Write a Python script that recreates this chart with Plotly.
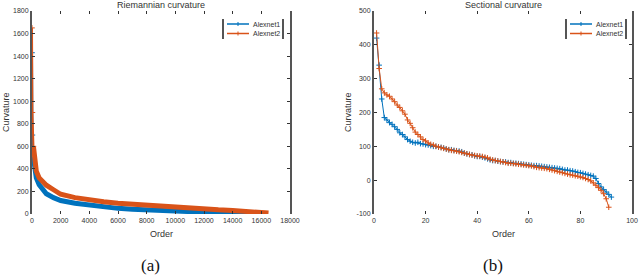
import plotly.graph_objects as go

# ---------------- data ----------------
# (a) Riemannian curvature — sampled readings of the sorted curves
riem_order_1 = [0, 30, 100, 200, 300, 500, 800, 1000, 1500, 2000, 3000, 4000, 5000, 6000,
                7000, 8000, 9000, 10000, 11000, 12000, 13000, 14000, 15000, 15300]
riem_alex1 = [1430, 700, 500, 400, 320, 260, 200, 180, 145, 120, 95, 78, 62, 50,
              42, 35, 29, 24, 19, 15, 11, 8, 5, 3]
riem_order_2 = [0, 30, 100, 200, 300, 500, 800, 1000, 1500, 2000, 3000, 4000, 5000, 6000,
                7000, 8000, 9000, 10000, 11000, 12000, 13000, 14000, 15000, 16000, 16500]
riem_alex2 = [1650, 900, 600, 450, 380, 320, 280, 255, 215, 175, 145, 124, 108, 96,
              86, 78, 68, 58, 50, 43, 37, 32, 22, 12, 8]

# (b) Sectional curvature
sec_alex1 = [420, 340, 240, 185, 178, 170, 165, 158, 150, 140, 135, 128, 120, 115, 112, 110,
             112, 108, 107, 105, 104, 102, 100, 100, 98, 97, 95, 92, 90, 90, 88, 87, 86, 84,
             80, 78, 76, 75, 72, 70, 70, 68, 66, 63, 60, 58, 58, 56, 55, 54, 54, 52, 52, 50,
             50, 49, 48, 47, 46, 45, 44, 43, 43, 42, 41, 40, 39, 38, 37, 36, 35, 34, 32, 30,
             30, 28, 27, 25, 23, 22, 20, 18, 16, 14, 12, 5, -10, -20, -28, -35, -42, -50]
sec_alex2 = [435, 330, 270, 258, 252, 248, 240, 232, 222, 215, 205, 195, 178, 168, 155, 142,
             135, 128, 120, 116, 110, 106, 104, 100, 98, 96, 94, 92, 90, 88, 87, 86, 84, 82,
             80, 78, 76, 74, 73, 72, 71, 70, 68, 66, 62, 60, 58, 57, 55, 54, 52, 50, 50, 49,
             48, 47, 46, 45, 44, 43, 42, 40, 38, 37, 36, 35, 34, 32, 30, 28, 26, 24, 22, 20,
             18, 16, 15, 13, 12, 10, 8, 5, 2, -2, -8, -15, -22, -30, -40, -55, -80]
sec_order_1 = list(range(1, len(sec_alex1) + 1))
sec_order_2 = list(range(1, len(sec_alex2) + 1))

riem_xticks = [0, 2000, 4000, 6000, 8000, 10000, 12000, 14000, 16000, 18000]
riem_yticks = [0, 200, 400, 600, 800, 1000, 1200, 1400, 1600, 1800]
sec_xticks = [0, 20, 40, 60, 80, 100]
sec_yticks = [-100, 0, 100, 200, 300, 400, 500]

series_names = ["Alexnet1", "Alexnet2"]
titles = ["Riemannian curvature", "Sectional curvature"]
panel_labels = ["(a)", "(b)"]

BLUE = "#0072BD"
ORANGE = "#D95319"
FONT = "Liberation Sans, Arial, sans-serif"
W, H = 640, 278

fig = go.Figure()

# panel (a): thin steep head (first 3 readings) + dense thick body
for xs, ys, col, name in [(riem_order_1, riem_alex1, BLUE, series_names[0]),
                          (riem_order_2, riem_alex2, ORANGE, series_names[1])]:
    fig.add_trace(go.Scatter(x=xs[:3], y=ys[:3], name=name, mode="lines+markers",
                             line=dict(color=col, width=2),
                             marker=dict(symbol="cross-thin", size=4, line=dict(color=col, width=1)),
                             xaxis="x", yaxis="y", showlegend=False))
    fig.add_trace(go.Scatter(x=xs[2:], y=ys[2:], name=name, mode="lines",
                             line=dict(color=col, width=5),
                             xaxis="x", yaxis="y", showlegend=False))

# panel (b)
for xs, ys, col, name in [(sec_order_1, sec_alex1, BLUE, series_names[0]),
                          (sec_order_2, sec_alex2, ORANGE, series_names[1])]:
    fig.add_trace(go.Scatter(x=xs, y=ys, name=name, mode="lines+markers",
                             line=dict(color=col, width=1),
                             marker=dict(symbol="cross-thin", size=4, line=dict(color=col, width=1)),
                             xaxis="x2", yaxis="y2", showlegend=False))

tickfont = dict(family=FONT, size=7, color="#333")
titlefont = dict(family=FONT, size=9, color="#333")

def xax(domain, ticks, anchor):
    return dict(domain=domain, range=[ticks[0], ticks[-1]], tickvals=ticks,
                ticktext=[str(t) for t in ticks], anchor=anchor, automargin=False,
                showgrid=False, zeroline=False, showline=True, linecolor="rgba(0,0,0,0)",
                mirror="ticks", ticks="inside", ticklen=3, tickcolor="#333",
                tickfont=tickfont)

def yax(domain, ticks, anchor):
    return dict(domain=domain, range=[ticks[0], ticks[-1]], tickvals=ticks,
                ticktext=[str(t) for t in ticks], anchor=anchor, automargin=False,
                showgrid=False, zeroline=False, showline=True, linecolor="#555", linewidth=2,
                mirror="ticks", ticks="inside", ticklen=3, tickcolor="#333",
                tickfont=tickfont)

ydom = [1 - 214 / H, 1 - 11 / H]
fig.update_layout(
    width=W, height=H,
    margin=dict(l=0, r=0, t=0, b=0, autoexpand=False),
    paper_bgcolor="white", plot_bgcolor="white",
    xaxis=xax([32 / W, 290 / W], riem_xticks, "y"),
    yaxis=yax(ydom, riem_yticks, "x"),
    xaxis2=xax([374 / W, 632 / W], sec_xticks, "y2"),
    yaxis2=yax(ydom, sec_yticks, "x2"),
    showlegend=False,
)

def px(x, y):
    return x / W, 1 - y / H

# titles, axis titles, panel labels
for cx, t in zip([(32 + 290) / 2, (374 + 632) / 2], titles):
    x, y = px(cx, 5)
    fig.add_annotation(x=x, y=y, xref="paper", yref="paper", text=t, showarrow=False,
                       font=titlefont, xanchor="center", yanchor="middle")
for cx in [(32 + 290) / 2, (374 + 632) / 2]:
    x, y = px(cx, 234)
    fig.add_annotation(x=x, y=y, xref="paper", yref="paper", text="Order", showarrow=False,
                       font=titlefont, xanchor="center", yanchor="middle")
for cx in [6, 348]:
    x, y = px(cx, 112)
    fig.add_annotation(x=x, y=y, xref="paper", yref="paper", text="Curvature", showarrow=False,
                       font=titlefont, textangle=-90, xanchor="center", yanchor="middle")
for cx, t in zip([150, 493], panel_labels):
    x, y = px(cx, 265)
    fig.add_annotation(x=x, y=y, xref="paper", yref="paper", text=t, showarrow=False,
                       font=dict(family="Liberation Serif, Times New Roman, serif", size=17, color="#111"),
                       xanchor="center", yanchor="middle")

# manual legends (MATLAB style)
legend_boxes = [(223, 283, 19, 39), (566, 626, 19, 39)]
colors = [BLUE, ORANGE]
for (x0, x1, y0, y1) in legend_boxes:
    for xe in (x0, x1):
        fig.add_shape(type="line", xref="paper", yref="paper",
                      x0=xe / W, x1=xe / W, y0=1 - y0 / H, y1=1 - y1 / H,
                      line=dict(color="#555", width=2))
    for i, (name, col) in enumerate(zip(series_names, colors)):
        ey = y0 + 5 + i * 9.5
        fig.add_shape(type="line", xref="paper", yref="paper",
                      x0=(x0 + 4) / W, x1=(x0 + 26) / W, y0=1 - ey / H, y1=1 - ey / H,
                      line=dict(color=col, width=1.5))
        fig.add_shape(type="line", xref="paper", yref="paper",
                      x0=(x0 + 15) / W, x1=(x0 + 15) / W, y0=1 - (ey - 2) / H, y1=1 - (ey + 2) / H,
                      line=dict(color=col, width=1))
        fig.add_annotation(x=(x0 + 28) / W, y=1 - ey / H, xref="paper", yref="paper", text=name,
                           showarrow=False, font=dict(family=FONT, size=7, color="#333"),
                           xanchor="left", yanchor="middle")

fig.write_html("out.html", config={"displayModeBar": False},
               post_script="document.body.style.margin='0';document.body.style.overflow='hidden';")
